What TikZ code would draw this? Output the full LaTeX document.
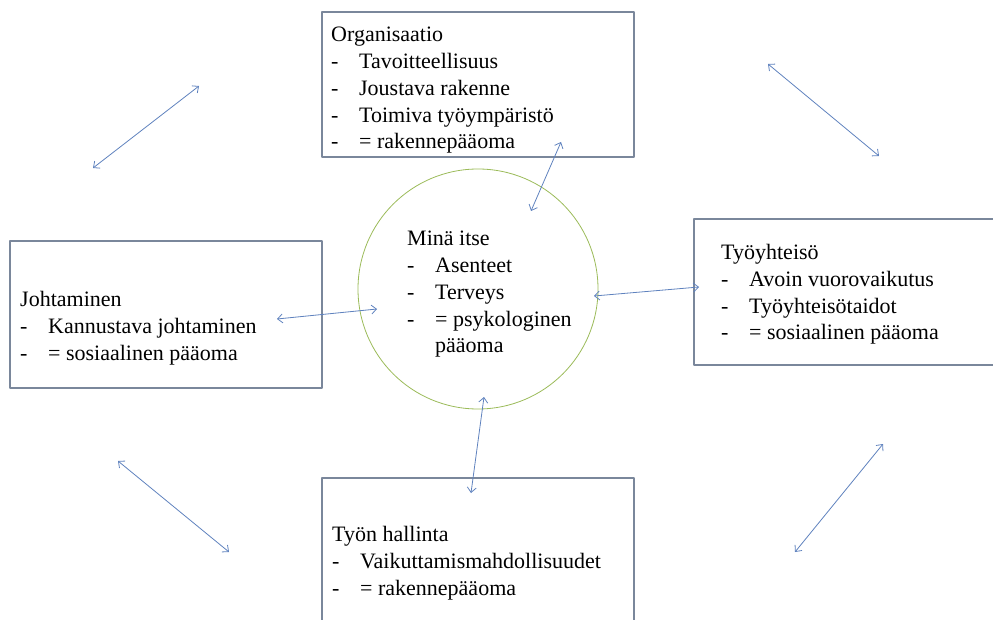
\documentclass[tikz,border=0pt]{standalone}
\usepackage{fontspec}
\setmainfont{Liberation Serif}
\usetikzlibrary{arrows.meta,fit}
\definecolor{boxline}{RGB}{122,135,155}
\definecolor{linkblue}{RGB}{95,130,190}
\definecolor{ringgreen}{RGB}{155,187,89}
\newcommand{\itm}[1]{\makebox[28pt][l]{-}#1}
\tikzset{
	box/.style={draw=boxline, line width=1.1pt, inner sep=0pt},
	txt/.style={anchor=north west, inner sep=0pt, align=left, font=\fontsize{22}{26.8}\selectfont},
	link/.style={<->, draw=linkblue, line width=0.8pt}
}
\begin{document}
\begin{tikzpicture}[x=1pt, y=-1pt, line join=round, line cap=round, >={Straight Barb[length=5pt,width=9pt]}]
	\useasboundingbox (0,0) rectangle (993,620);
	% laatikot
	\node[box, fit={(322,12) (634,157)}] (org) {};
	\node[box, fit={(10,241) (322,388)}] (joht) {};
	\node[box, fit={(694,219) (1000,365)}] (tyoy) {};
	\node[box, fit={(322,478) (634,640)}] (hall) {};
	\node[draw=ringgreen, line width=0.8pt, circle, minimum size=240pt, inner sep=0pt] (mina) at (478,289) {};
	% tekstit
	\node[txt] (orgtxt) at (331,27) {Organisaatio\\ \itm{Tavoitteellisuus}\\ \itm{Joustava rakenne}\\ \itm{Toimiva työympäristö}\\ \itm{= rakennepääoma}};
	\node[txt] (johttxt) at (20,291) {Johtaminen\\ \itm{Kannustava johtaminen}\\ \itm{= sosiaalinen pääoma}};
	\node[txt] (tyoytxt) at (721,244) {Työyhteisö\\ \itm{Avoin vuorovaikutus}\\ \itm{Työyhteisötaidot}\\ \itm{= sosiaalinen pääoma}};
	\node[txt] (halltxt) at (332,526) {Työn hallinta\\ \itm{Vaikuttamismahdollisuudet}\\ \itm{= rakennepääoma}};
	\node[txt] (minatxt) at (407,231) {Minä itse\\ \itm{Asenteet}\\ \itm{Terveys}\\ \itm{= psykologinen}\\ \hspace*{28pt}pääoma};
	% nuolet
	\coordinate (tl1) at (93,168);  \coordinate (tl2) at (199,86);
	\coordinate (tr1) at (768,64);  \coordinate (tr2) at (879,156);
	\coordinate (bl1) at (118,461); \coordinate (bl2) at (229,552);
	\coordinate (br1) at (883,444); \coordinate (br2) at (795,552);
	\coordinate (ylo) at (561,142); \coordinate (ylo2) at (531,211);
	\coordinate (vas) at (277,319); \coordinate (vas2) at (377,309);
	\coordinate (oik) at (594,296); \coordinate (oik2) at (699,287);
	\coordinate (ala) at (484,397); \coordinate (ala2) at (471,493);
	\foreach \p/\q in {tl1/tl2, tr1/tr2, bl1/bl2, br1/br2, ylo/ylo2, vas/vas2, oik/oik2, ala/ala2}
		\draw[link] (\p) -- (\q);
\end{tikzpicture}
\end{document}
